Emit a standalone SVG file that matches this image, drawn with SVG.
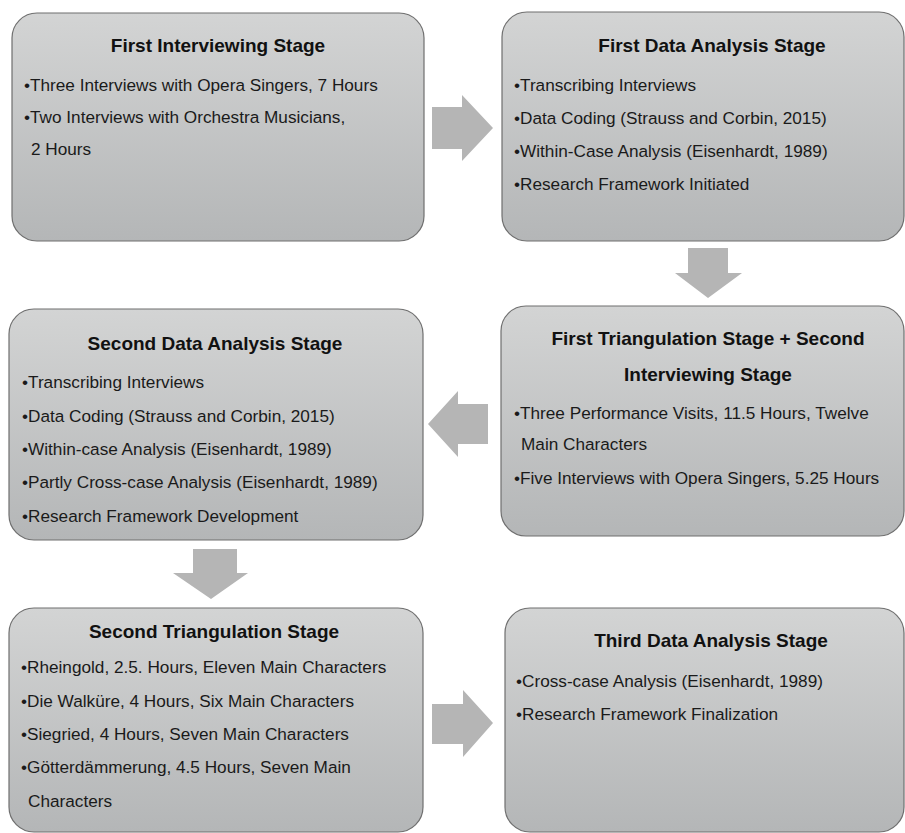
<svg xmlns="http://www.w3.org/2000/svg" width="905" height="833" viewBox="0 0 905 833">
  <defs>
    <linearGradient id="boxFill" x1="0" y1="0" x2="0" y2="1">
      <stop offset="0" stop-color="#d3d4d4"/>
      <stop offset="1" stop-color="#b4b6b7"/>
    </linearGradient>
  </defs>
  <style>
    .box { fill: url(#boxFill); stroke: #6f6f6f; stroke-width: 1.2; }
    .title { font-family: "Liberation Sans", Arial, sans-serif; font-weight: bold; font-size: 19px; fill: #111; text-anchor: middle; }
    .item { font-family: "Liberation Sans", Arial, sans-serif; font-size: 17.2px; fill: #1a1a1a; }
    .arrow { fill: #b5b5b5; }
  </style>
  <rect width="905" height="833" fill="#ffffff"/>

  <!-- flow arrows between stages -->
  <g id="connectors">
    <polygon class="arrow" points="432,107 462,107 462,95 493,128 462,161 462,149 432,149"/>
    <polygon class="arrow" points="688,248 728,248 728,273 742,273 708,298 675,273 688,273"/>
    <polygon class="arrow" points="488,404 458,404 458,391 428,424 458,457 458,444 488,444"/>
    <polygon class="arrow" points="193,549 237,549 237,573 248,573 211,599 173,573 193,573"/>
    <polygon class="arrow" points="432,704 463,704 463,690 493,723 463,757 463,744 432,744"/>
  </g>

  <g id="first-interviewing">
    <rect class="box" x="12" y="13" width="412" height="228" rx="25"/>
    <text class="title" x="218" y="52">First Interviewing Stage</text>
    <text class="item" x="24" y="91">•Three Interviews with Opera Singers, 7 Hours</text>
    <text class="item" x="24" y="123">•Two Interviews with Orchestra Musicians,</text>
    <text class="item" x="31" y="155">2 Hours</text>
  </g>

  <g id="first-data-analysis">
    <rect class="box" x="502" y="12" width="402" height="229" rx="25"/>
    <text class="title" x="712" y="52">First Data Analysis Stage</text>
    <text class="item" x="514" y="91">•Transcribing Interviews</text>
    <text class="item" x="514" y="124">•Data Coding (Strauss and Corbin, 2015)</text>
    <text class="item" x="514" y="157">•Within-Case Analysis (Eisenhardt, 1989)</text>
    <text class="item" x="514" y="190">•Research Framework Initiated</text>
  </g>

  <g id="first-triangulation">
    <rect class="box" x="501" y="306" width="403" height="230" rx="25"/>
    <text class="title" x="708" y="345">First Triangulation Stage + Second</text>
    <text class="title" x="708" y="381">Interviewing Stage</text>
    <text class="item" x="514" y="419">•Three Performance Visits, 11.5 Hours, Twelve</text>
    <text class="item" x="521" y="450">Main Characters</text>
    <text class="item" x="514" y="484">•Five Interviews with Opera Singers, 5.25 Hours</text>
  </g>

  <g id="second-data-analysis">
    <rect class="box" x="9" y="309" width="414" height="231" rx="25"/>
    <text class="title" x="215" y="350">Second Data Analysis Stage</text>
    <text class="item" x="22" y="388">•Transcribing Interviews</text>
    <text class="item" x="22" y="422">•Data Coding (Strauss and Corbin, 2015)</text>
    <text class="item" x="22" y="455">•Within-case Analysis (Eisenhardt, 1989)</text>
    <text class="item" x="22" y="488">•Partly Cross-case Analysis (Eisenhardt, 1989)</text>
    <text class="item" x="22" y="522">•Research Framework Development</text>
  </g>

  <g id="second-triangulation">
    <rect class="box" x="9" y="608" width="414" height="224" rx="25"/>
    <text class="title" x="214" y="638">Second Triangulation Stage</text>
    <text class="item" x="21" y="673">•Rheingold, 2.5. Hours, Eleven Main Characters</text>
    <text class="item" x="21" y="707">•Die Walküre, 4 Hours, Six Main Characters</text>
    <text class="item" x="21" y="740">•Siegried, 4 Hours, Seven Main Characters</text>
    <text class="item" x="21" y="773">•Götterdämmerung, 4.5 Hours, Seven Main</text>
    <text class="item" x="28" y="807">Characters</text>
  </g>

  <g id="third-data-analysis">
    <rect class="box" x="505" y="608" width="399" height="224" rx="25"/>
    <text class="title" x="711" y="647">Third Data Analysis Stage</text>
    <text class="item" x="516" y="687">•Cross-case Analysis (Eisenhardt, 1989)</text>
    <text class="item" x="516" y="720">•Research Framework Finalization</text>
  </g>
</svg>
